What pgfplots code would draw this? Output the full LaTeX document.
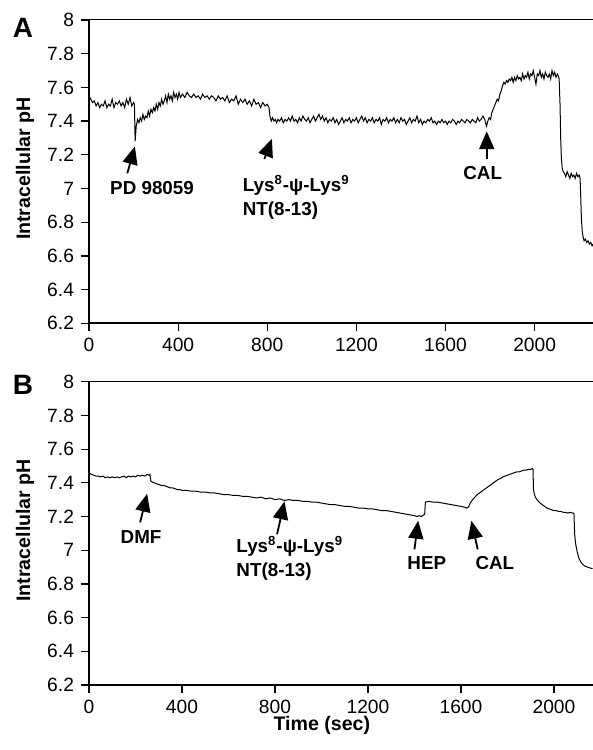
\documentclass[border=0pt]{standalone}
\usepackage{fontspec}
\setmainfont{Liberation Sans}
\usepackage{pgfplots}
\pgfplotsset{compat=1.18}
\usetikzlibrary{arrows.meta}

\tikzset{
  ann/.style={font=\fontsize{9.4}{12}\selectfont\bfseries},
  arr/.style={-{Triangle[length=9pt,width=7.5pt]}, line width=0.9pt},
}
\pgfplotsset{
  phax/.style={
    scale only axis, width=252pt, height=151.65pt,
    ymin=6.2, ymax=8,
    ytick={6.2,6.4,6.6,6.8,7,7.2,7.4,7.6,7.8,8},
    xmin=0, xtick={0,400,800,1200,1600,2000},
    axis lines*=left,
    axis line style={line width=1pt},
    tick align=outside, major tick length=4pt,
    tick style={line width=0.6pt, black},
    every tick label/.append style={font=\fontsize{9.6}{11}\selectfont},
    /pgf/number format/assume math mode=true,
    /pgf/number format/1000 sep={},
    scaled ticks=false,
    ylabel={Intracellular pH},
    ylabel style={font=\fontsize{9.8}{11}\selectfont\bfseries,
      at={(axis description cs:-0.127,0.51)}, anchor=center},
    clip=false,
  },
}

\begin{document}
\begin{tikzpicture}
% panel A
\begin{axis}[phax, at={(0pt,0pt)}, anchor=south west, xmax=2262]
\addplot[black, line width=0.5pt] table {
0 7.55
8 7.53
16 7.51
24 7.52
32 7.49
40 7.51
48 7.48
56 7.50
64 7.49
72 7.52
80 7.48
88 7.50
96 7.49
104 7.53
112 7.48
120 7.51
128 7.50
136 7.52
144 7.49
152 7.51
160 7.48
168 7.53
176 7.50
184 7.54
192 7.49
200 7.51
204 7.50
207 7.28
212 7.37
218 7.41
224 7.39
230 7.42
236 7.40
242 7.44
248 7.41
254 7.43
260 7.42
266 7.46
272 7.43
278 7.47
284 7.45
290 7.48
296 7.46
302 7.50
308 7.47
314 7.51
320 7.49
326 7.53
332 7.50
338 7.52
344 7.55
350 7.51
356 7.56
362 7.53
368 7.55
374 7.52
380 7.57
386 7.54
392 7.56
398 7.53
404 7.57
410 7.54
420 7.56
430 7.54
440 7.57
450 7.55
460 7.54
470 7.56
480 7.54
490 7.55
500 7.53
510 7.56
520 7.54
530 7.55
540 7.53
550 7.55
560 7.54
570 7.52
580 7.55
590 7.53
600 7.54
610 7.52
620 7.55
630 7.51
640 7.53
650 7.52
660 7.55
670 7.50
680 7.53
690 7.51
700 7.53
710 7.50
720 7.52
730 7.49
740 7.53
750 7.50
760 7.51
770 7.48
780 7.51
790 7.49
800 7.50
808 7.48
812 7.43
818 7.40
824 7.42
830 7.40
836 7.41
842 7.39
848 7.41
856 7.40
864 7.42
872 7.39
880 7.41
888 7.40
896 7.42
904 7.40
912 7.43
920 7.40
928 7.41
936 7.39
944 7.42
952 7.40
960 7.43
968 7.41
976 7.40
984 7.42
992 7.39
1000 7.41
1008 7.43
1016 7.40
1024 7.42
1032 7.44
1040 7.41
1048 7.43
1056 7.40
1064 7.42
1072 7.39
1080 7.41
1088 7.40
1096 7.42
1104 7.39
1112 7.41
1120 7.38
1128 7.40
1136 7.42
1144 7.39
1152 7.41
1160 7.40
1168 7.42
1176 7.39
1184 7.41
1192 7.40
1200 7.42
1208 7.39
1216 7.41
1224 7.43
1232 7.40
1240 7.42
1248 7.39
1256 7.41
1264 7.40
1272 7.42
1280 7.39
1288 7.41
1296 7.40
1304 7.42
1312 7.38
1320 7.41
1328 7.40
1336 7.42
1344 7.39
1352 7.41
1360 7.40
1368 7.42
1376 7.39
1384 7.41
1392 7.39
1400 7.42
1408 7.40
1416 7.41
1424 7.38
1432 7.40
1440 7.42
1448 7.39
1456 7.41
1464 7.40
1472 7.43
1480 7.39
1488 7.41
1496 7.38
1504 7.40
1512 7.39
1520 7.41
1528 7.40
1536 7.42
1544 7.39
1552 7.40
1560 7.38
1568 7.40
1576 7.39
1584 7.41
1592 7.39
1600 7.40
1608 7.38
1616 7.40
1624 7.39
1632 7.41
1640 7.40
1648 7.38
1656 7.40
1664 7.39
1672 7.41
1680 7.40
1688 7.39
1696 7.41
1704 7.40
1712 7.39
1720 7.41
1728 7.40
1736 7.39
1744 7.42
1752 7.40
1760 7.41
1768 7.43
1776 7.41
1784 7.37
1790 7.40
1796 7.42
1802 7.41
1808 7.45
1814 7.47
1820 7.49
1826 7.51
1832 7.53
1838 7.52
1844 7.56
1850 7.58
1856 7.61
1862 7.63
1868 7.62
1874 7.64
1880 7.63
1886 7.65
1892 7.64
1898 7.66
1904 7.63
1910 7.66
1916 7.64
1922 7.67
1928 7.65
1934 7.66
1940 7.64
1946 7.68
1952 7.65
1958 7.67
1964 7.66
1970 7.69
1976 7.65
1982 7.68
1988 7.67
1994 7.70
2000 7.66
2006 7.62
2012 7.68
2018 7.67
2024 7.70
2030 7.66
2036 7.68
2042 7.65
2048 7.69
2054 7.67
2060 7.66
2066 7.68
2072 7.65
2078 7.70
2084 7.67
2090 7.69
2096 7.66
2102 7.68
2106 7.67
2110 7.65
2114 7.50
2117 7.30
2120 7.18
2124 7.12
2128 7.10
2134 7.09
2140 7.07
2146 7.10
2152 7.08
2158 7.06
2164 7.09
2170 7.07
2176 7.08
2182 7.06
2188 7.09
2194 7.07
2200 7.08
2204 7.06
2207 6.95
2210 6.82
2214 6.74
2218 6.71
2222 6.69
2228 6.70
2234 6.68
2240 6.69
2246 6.67
2252 6.68
2258 6.66
2262 6.67
};
\draw[line width=0.5pt] (rel axis cs:0,1) -- (rel axis cs:1,1);
\draw[arr] (axis cs:172,7.09) -- (axis cs:206,7.25);
\node[ann] at (axis cs:283,7.003) {PD 98059};
\draw[arr] (axis cs:787,7.175) -- (axis cs:821,7.295);
\node[ann, align=left, anchor=west] at (axis cs:659,6.947)
  {Lys\textsuperscript{8}-ψ-Lys\textsuperscript{9}\\NT(8-13)};
\draw[arr] (axis cs:1785,7.175) -- (axis cs:1785,7.34);
\node[ann] at (axis cs:1767,7.092) {CAL};
\end{axis}

% panel B
\begin{axis}[phax, at={(0pt,-180.85pt)}, anchor=south west, xmax=2168,
  xlabel={Time (sec)},
  xlabel style={font=\fontsize{9.8}{11}\selectfont\bfseries,
    at={(axis description cs:0.462,-0.134)}, anchor=center}]
\addplot[black, line width=0.5pt] table {
0 7.46
10 7.45
20 7.445
30 7.44
40 7.44
50 7.435
60 7.44
70 7.43
80 7.435
90 7.43
100 7.435
110 7.43
120 7.435
130 7.43
140 7.435
150 7.44
160 7.43
170 7.44
180 7.435
190 7.44
200 7.435
210 7.445
220 7.44
230 7.445
240 7.44
250 7.45
258 7.445
262 7.45
266 7.41
272 7.405
280 7.40
290 7.395
300 7.39
310 7.385
320 7.385
330 7.38
340 7.375
350 7.37
360 7.37
370 7.365
380 7.36
390 7.36
400 7.355
420 7.355
440 7.35
460 7.35
480 7.345
500 7.345
520 7.34
540 7.34
560 7.335
580 7.33
600 7.33
620 7.325
640 7.325
660 7.32
680 7.32
700 7.315
720 7.31
740 7.315
760 7.305
780 7.31
800 7.30
820 7.305
840 7.295
860 7.30
880 7.295
900 7.295
920 7.29
940 7.29
960 7.285
980 7.285
1000 7.28
1020 7.275
1040 7.27
1060 7.27
1080 7.265
1100 7.26
1120 7.26
1140 7.255
1160 7.25
1180 7.25
1200 7.245
1220 7.245
1240 7.24
1260 7.235
1280 7.235
1300 7.23
1320 7.225
1340 7.22
1360 7.215
1380 7.21
1400 7.205
1410 7.20
1420 7.205
1430 7.20
1440 7.21
1444 7.215
1447 7.285
1460 7.29
1480 7.285
1500 7.285
1520 7.28
1540 7.275
1560 7.27
1580 7.265
1600 7.26
1615 7.255
1625 7.25
1632 7.255
1640 7.28
1650 7.30
1660 7.315
1670 7.33
1680 7.34
1690 7.35
1700 7.36
1710 7.37
1720 7.38
1730 7.39
1740 7.40
1750 7.41
1760 7.42
1770 7.425
1780 7.435
1790 7.44
1800 7.445
1810 7.45
1820 7.455
1830 7.46
1840 7.465
1850 7.465
1860 7.47
1870 7.475
1880 7.475
1890 7.48
1900 7.48
1906 7.485
1910 7.48
1912 7.36
1916 7.33
1922 7.31
1930 7.295
1940 7.28
1950 7.27
1960 7.26
1970 7.25
1980 7.245
1990 7.24
2000 7.235
2010 7.235
2020 7.23
2030 7.23
2040 7.225
2050 7.225
2060 7.22
2070 7.225
2080 7.22
2086 7.22
2089 7.10
2093 7.04
2100 6.99
2108 6.95
2116 6.93
2124 6.915
2134 6.905
2144 6.90
2154 6.895
2166 6.89
};
\draw[line width=0.5pt] (rel axis cs:0,1) -- (rel axis cs:1,1);
\draw[arr] (axis cs:220,7.165) -- (axis cs:250,7.335);
\node[ann] at (axis cs:224,7.079) {DMF};
\draw[arr] (axis cs:809,7.095) -- (axis cs:841,7.29);
\node[ann, align=left, anchor=west] at (axis cs:604,6.951)
  {Lys\textsuperscript{8}-ψ-Lys\textsuperscript{9}\\NT(8-13)};
\draw[arr] (axis cs:1400,7.005) -- (axis cs:1416,7.175);
\node[ann] at (axis cs:1453,6.925) {HEP};
\draw[arr] (axis cs:1672,7.005) -- (axis cs:1645,7.175);
\node[ann] at (axis cs:1746,6.925) {CAL};
\end{axis}

\node[font=\fontsize{14}{16}\selectfont\bfseries] at (-33pt,147.6pt) {A};
\node[font=\fontsize{14}{16}\selectfont\bfseries] at (-33pt,-30.85pt) {B};

\pgfresetboundingbox
\useasboundingbox (-44.5pt,-213.35pt) rectangle (252pt,161.65pt);
\end{tikzpicture}
\end{document}
